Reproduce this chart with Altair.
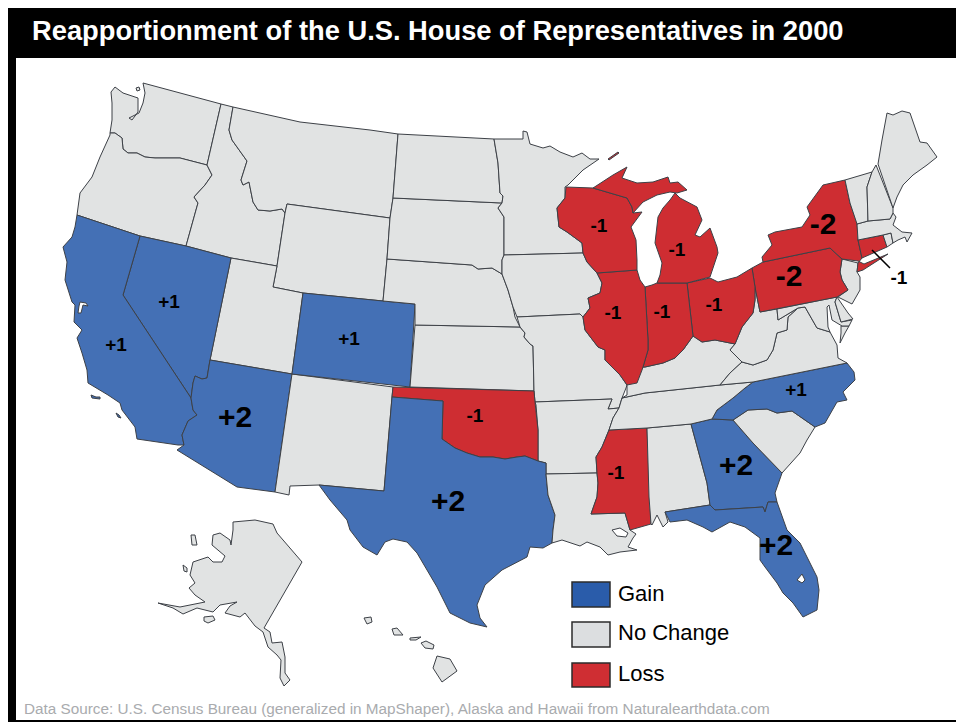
import altair as alt

TITLE = "Reapportionment of the U.S. House of Representatives in 2000"
SOURCE = "Data Source: U.S. Census Bureau (generalized in MapShaper), Alaska and Hawaii from Naturalearthdata.com"

# Shared borders (map units equal image pixels)
WA_OR = [(207,165),(180,158),(162,158),(155,158),(145,157),(137,153),(128,153),(123,149),(122,138),(115,133),(110,133)]
OR_ID = [(186,246),(196,210),(198,203),(194,197),(205,185),(212,175),(207,165)]
ID_MT = [(233,107),(229,130),(232,140),(247,161),(241,180),(243,185),(249,182),(253,202),(258,210),(270,211),(282,209),(285,213)]
NV_AZ = [(210,360),(207,378),(202,379),(195,376),(193,383),(191,398)]
CA_AZ = [(191,398),(193,410),(197,415),(188,421),(182,435),(184,445)]
ND_MN = [(494,139),(498,163),(500,193),(503,196),(502,203)]
SD_MN = [(502,203),(498,208),(504,217),(504,255)]
SD_IA = [(504,255),(502,260),(502,274)]
NE_SD = [(387,259),(472,265),(478,269),(492,268),(502,274)]
NE_IA = [(502,274),(508,290),(513,307),(515,317)]
NE_MO = [(515,317),(520,327)]
KS_MO = [(520,327),(525,333),(524,337),(530,344),(533,346),(534,391)]
MN_WI = [(565,187),(565,198),(557,208),(559,227),(567,232),(582,243),(583,253)]
IA_IL = [(583,253),(587,262),(597,273),(602,283),(600,293),(588,298),(590,308),(583,317)]
MO_IL = [(583,317),(585,330),(598,347),(605,350),(605,360),(620,375),(627,385)]
OK_TX = [(538,461),(525,456),(517,457),(505,459),(493,457),(480,457),(467,453),(455,448),(442,439),(443,401),(392,397)]
TX_LA = [(546,474),(548,495),(555,515),(553,530),(552,543)]
AR_MS = [(597,473),(596,457),(602,447),(609,430)]
LA_MS = [(597,473),(598,483),(597,497),(591,514),(625,513),(630,530)]
AL_GA = [(691,424),(707,483),(710,505)]
GA_SC = [(733,420),(753,443),(782,473)]
SC_NC = [(733,420),(748,410),(767,409),(777,413),(792,411),(815,427)]
NC_TN = [(712,419),(717,410),(733,398),(745,388),(753,382)]
KY_VA = [(720,385),(730,373),(742,362)]
KY_WV = [(735,344),(730,350),(742,362)]
WV_VA = [(742,362),(753,365),(767,360),(773,350),(777,333),(787,330),(788,317),(798,308)]
VA_MD = [(798,308),(805,307),(817,328),(830,332)]
OH_WV = [(735,344),(742,327),(753,313),(755,300),(755,287)]
NY_PA = [(763,262),(830,248),(842,259)]
NJ_PA = [(842,259),(840,272),(842,280),(848,290),(837,297)]


def r(seq):
    return list(reversed(seq))


STATES = {
 "WA": ("No Change", [[(143,83),(221,104)] + WA_OR + [(112,120),(112,103),(111,92),(115,87),(123,93),(138,98),(138,112),(132,120),(129,118),(133,116),(139,113),(143,103),(145,93)]]),
 "WAi": ("No Change", [[(136,88),(139,87),(140,90),(137,91)]]),
 "OR": ("No Change", [[(110,135),(100,157),(92,177),(80,193),(77,215),(140,236)] + OR_ID + WA_OR[1:]]),
 "ID": ("No Change", [[(221,104),(233,107)] + ID_MT[1:] + [(277,266),(231,258)] + OR_ID]),
 "MT": ("No Change", [[(233,107),(300,122),(370,130),(398,134),(393,198),(390,218),(287,204)] + r(ID_MT)[:-1]]),
 "WY": ("No Change", [[(287,204),(390,218),(387,259),(383,301),(303,293),(273,287),(277,266),(285,213)]]),
 "UT": ("No Change", [[(231,258),(277,266),(273,287),(303,293),(292,374),(210,360)]]),
 "NV": ("Gain", [[(140,236),(186,246),(231,258)] + NV_AZ + [(123,295)]]),
 "CA": ("Gain", [[(77,215),(140,236),(123,295)] + CA_AZ + [(178,445),(137,439),(135,427),(122,410),(120,403),(108,395),(88,383),(87,370),(82,353),(77,338),(82,330),(74,322),(75,305),(72,302),(65,280),(67,262),(63,247),(72,237),(75,227)],
                 [(80,302),(86,303),(88,306),(83,305),(81,313),(78,313),(79,306)]]),
 "CAi1": ("Gain", [[(91,395),(96,397),(100,397),(100,399),(92,398)]]),
 "CAi2": ("Gain", [[(116,413),(119,415),(121,418),(118,417)]]),
 "AZ": ("Gain", [NV_AZ + CA_AZ[1:] + [(177,450),(237,487),(275,492),(292,374)]]),
 "NM": ("No Change", [[(292,374),(393,387),(392,397),(384,491),(319,485),(290,486),(289,495),(275,492)]]),
 "CO": ("Gain", [[(303,293),(383,301),(415,304),(410,387),(292,374)]]),
 "KS": ("No Change", [[(415,325),(520,327)] + KS_MO[1:] + [(410,387)]]),
 "NE": ("No Change", [NE_SD + NE_IA[1:] + NE_MO[1:] + [(415,325),(415,304),(383,301)]]),
 "SD": ("No Change", [[(393,198),(502,203)] + SD_MN[1:] + SD_IA[1:] + r(NE_SD)[1:] + [(390,218)]]),
 "ND": ("No Change", [[(398,134),(494,139)] + ND_MN[1:] + [(393,198)]]),
 "MN": ("No Change", [[(494,139),(523,139),(523,131),(527,132),(530,144),(543,148),(550,146),(560,152),(573,157),(582,153),(590,159),(599,159),(583,170),(568,185)] + MN_WI + r(SD_MN)[:-1] + r(ND_MN)[:-1]]),
 "IA": ("No Change", [[(504,255),(583,253)] + IA_IL[1:] + [(580,314),(517,317)] + r(NE_IA)[1:-1] + [(502,274),(502,260)]]),
 "MO": ("No Change", [[(517,317),(580,314),(583,317)] + MO_IL[1:] + [(626,388),(622,398),(619,408),(608,409),(612,399),(535,402),(534,391)] + r(KS_MO)[1:-1] + [(520,327)]]),
 "AR": ("No Change", [[(535,402),(612,399),(608,409),(619,408),(613,418),(609,430)] + r(AR_MS)[1:] + [(546,474),(546,463),(538,461),(538,430),(536,405)]]),
 "OK": ("Loss", [[(393,387),(534,391),(535,402),(538,430)] + OK_TX]),
 "TX": ("Gain", [[(392,397),(443,401),(442,439),(455,448),(467,453),(480,457),(493,457),(505,459),(517,457),(525,456),(538,461),(546,463),(546,474)] + TX_LA[1:] + [(543,548),(530,547),(527,557),(502,570),(485,585),(477,605),(480,618),(487,627),(470,623),(450,613),(437,587),(417,553),(407,542),(393,539),(385,542),(377,555),(363,547),(350,530),(347,520),(330,500),(319,485),(384,491)]]),
 "LA": ("No Change", [[(546,474),(597,473)] + LA_MS[1:] + [(636,534),(633,538),(628,547),(637,550),(620,552),(608,555),(600,547),(587,542),(580,546),(562,540),(552,543)] + r(TX_LA)[1:-1],
                      [(612,530),(620,528),(628,533),(626,537),(617,536)]]),
 "MS": ("Loss", [[(609,430),(647,428),(651,524),(630,530)] + r(LA_MS)[1:] + AR_MS[1:]]),
 "AL": ("No Change", [[(647,428),(691,424)] + AL_GA[1:] + [(665,512),(668,522),(663,527),(657,515),(652,525),(651,524),(649,497)]]),
 "GA": ("Gain", [[(691,424),(712,419),(733,420)] + GA_SC[1:] + [(775,493),(777,502),(768,502),(765,512),(763,507),(715,510),(710,505)] + r(AL_GA)[1:-1]]),
 "FL": ("Gain", [[(665,512),(710,505),(715,510),(763,507),(765,512),(768,502),(777,502),(787,530),(800,543),(817,577),(819,590),(817,610),(803,617),(793,603),(783,593),(777,583),(765,567),(760,560),(760,538),(745,527),(730,522),(712,532),(703,527),(687,520),(670,522)],
                 [(802,574),(805,580),(802,583),(797,580)]]),
 "SC": ("No Change", [SC_NC + [(807,440),(800,453)] + r(GA_SC)[:-1]]),
 "NC": ("Gain", [NC_TN + [(847,363),(854,372),(855,380),(843,392),(847,400),(837,402),(825,423)] + r(SC_NC)[:] + [(712,419)]]),
 "TN": ("No Change", [[(622,398),(645,393),(720,385),(753,382)] + r(NC_TN)[1:] + [(691,424),(647,428),(609,430),(613,418),(619,408)]]),
 "KY": ("No Change", [[(627,385),(643,367),(645,367),(663,363),(675,358),(683,350),(693,336),(702,342),(715,340),(735,344)] + KY_WV[1:] + [(730,373),(720,385),(645,393),(622,398),(627,395)]]),
 "VA": ("No Change", [KY_VA + WV_VA[1:] + VA_MD[1:] + [(837,345),(838,358),(847,363),(753,382)]]),
 "VAe": ("No Change", [[(841,326),(849,326),(845,333),(840,343),(841,333)]]),
 "WV": ("No Change", [r(OH_WV) + KY_WV[1:] + WV_VA[1:] + [(778,320),(777,309),(760,312)]]),
 "MD": ("No Change", [[(777,309),(837,297),(835,302),(841,322),(852,320),(849,326),(842,326),(832,320),(829,305),(827,307),(828,327),(830,332),(817,328),(805,307),(798,308),(778,320)]]),
 "DE": ("No Change", [[(837,297),(848,313),(853,319),(841,322),(835,302)]]),
 "NJ": ("No Change", [[(842,259),(858,263),(857,272),(860,277),(860,290),(852,304),(838,297),(848,290),(842,280),(840,272)]]),
 "PA": ("Loss", [[(752,268),(763,262)] + NY_PA[1:] + NJ_PA[1:] + [(760,312),(755,287)]]),
 "NY": ("Loss", [[(763,262),(762,257),(772,245),(768,235),(775,232),(802,227),(810,215),(807,207),(823,185),(845,180),(850,203),(857,223),(858,240),(862,258),(858,263),(857,272),(863,270),(888,254),(864,264),(858,261),(842,259),(830,248)]]),
 "CT": ("Loss", [[(858,240),(883,235),(887,247),(862,258)]]),
 "RI": ("No Change", [[(883,235),(891,233),(893,243),(887,247)]]),
 "MA": ("No Change", [[(857,224),(868,221),(890,219),(893,213),(896,217),(893,225),(902,232),(912,233),(907,242),(905,237),(898,240),(893,243),(891,233),(883,235),(858,240)]]),
 "VT": ("No Change", [[(845,180),(872,172),(867,187),(868,221),(857,224),(850,203)]]),
 "NH": ("No Change", [[(872,172),(876,165),(893,208),(893,213),(890,219),(868,221),(867,187)]]),
 "ME": ("No Change", [[(878,164),(882,140),(887,113),(893,115),(902,111),(910,113),(920,142),(927,143),(937,157),(927,165),(913,175),(903,185),(897,197),(893,208)]]),
 "OH": ("Loss", [[(687,283),(710,278),(718,282),(737,277),(752,268),(755,287),(755,300),(753,313),(742,327),(735,344),(715,340),(702,342),(693,336)]]),
 "IN": ("Loss", [[(645,287),(652,285),(657,283),(687,283),(693,336),(683,350),(675,358),(663,363),(645,367),(643,367),(648,350),(648,340)]]),
 "IL": ("Loss", [[(597,273),(637,270),(640,280),(645,287),(648,340),(648,350),(643,367),(642,370),(637,383),(627,385),(620,375),(605,360),(605,350),(598,347),(585,330),(583,317),(590,308),(588,298),(600,293),(602,283)]]),
 "WI": ("Loss", [[(566,187),(593,188),(627,198),(632,207),(633,213),(642,212),(631,227),(636,240),(637,260),(637,270),(597,273),(587,262),(583,253),(582,243),(567,232),(559,227),(557,208),(565,198)]]),
 "MIu": ("Loss", [[(593,188),(613,175),(627,167),(622,178),(637,183),(653,182),(668,177),(670,183),(678,182),(687,190),(677,193),(670,192),(657,195),(643,202),(633,213),(632,207),(627,198)]]),
 "MIl": ("Loss", [[(675,193),(680,198),(697,207),(702,220),(695,235),(700,237),(710,228),(717,247),(718,253),(710,277),(687,283),(657,283),(660,275),(662,263),(655,243),(658,217),(663,208),(670,200)]]),
 "IRoy": ("Loss", [[(608,159),(618,152),(619,153),(609,160)]]),
 "AK": ("No Change", [[(233,522),(255,520),(273,524),(277,533),(302,562),(264,628),(270,632),(272,643),(282,642),(285,657),(285,673),(290,680),(284,686),(280,678),(281,660),(277,655),(268,647),(263,632),(255,626),(245,613),(240,617),(225,613),(230,606),(237,602),(220,605),(213,612),(197,608),(183,614),(173,608),(158,603),(180,607),(205,602),(195,595),(189,588),(195,583),(190,575),(193,562),(208,557),(213,562),(222,562),(225,556),(212,545),(213,535),(220,533),(230,540),(231,545),(233,530)]]),
 "AKi1": ("No Change", [[(191,535),(195,535),(197,545),(192,545)]]),
 "AKi2": ("No Change", [[(183,565),(187,568),(187,572),(184,571)]]),
 "AKi3": ("No Change", [[(204,617),(213,616),(215,620),(208,623),(204,621)]]),
 "HI1": ("No Change", [[(364,618),(371,617),(372,622),(367,624)]]),
 "HI2": ("No Change", [[(392,629),(397,628),(403,635),(394,635)]]),
 "HI3": ("No Change", [[(410,638),(421,637),(416,640),(410,640)]]),
 "HI4": ("No Change", [[(421,643),(426,641),(434,645),(433,649),(425,648)]]),
 "HI5": ("No Change", [[(437,656),(450,659),(457,671),(442,682),(433,668)]]),
}

STATUS = ["Gain", "No Change", "Loss"]
MAP_COLORS = ["#4470b5", "#e1e3e3", "#ce2d32"]
KEY_COLORS = ["#2a5caa", "#dcdee0", "#cf2e33"]

LABEL_TEXT = ["+1","+1","+1","+2","+2","-1","-1","+2","+2","+1","-1","-1","-1","-1","-1","-2","-2","-1"]
LABEL_X =    [169,116,349,235,448,475,616,736,776,796,599,677,613,662,714,789,823,899]
LABEL_Y =    [302,345,339,418,502,416,473,466,546,390,226,250,313,312,305,277,225,278]
LABEL_SIZE = [19,19,19,30,30,19,19,30,30,19,19,19,19,19,19,30,30,19]

KEY_TEXT_Y = [594,633,674]
KEY_BOXES = [(572,582,610,607),(572,622,610,647),(572,663,610,687)]
FRAME = [(8,7,964,58),(8,7,16,722),(8,720,964,722)]
LEADER = [(872,250),(890,268)]


def area(pts):
    return sum(a[0]*b[1]-b[0]*a[1] for a, b in zip(pts, pts[1:]+pts[:1]))


def feature(name, status, rings):
    out = []
    for i, seq in enumerate(rings):
        pts = [list(p) for p in seq]
        # holes wind the other way round from their outer ring
        if (area(pts) > 0) == (i > 0):
            pts = pts[::-1]
        out.append(pts + [pts[0]])
    return {"type": "Feature", "id": name, "properties": {"status": status},
            "geometry": {"type": "Polygon", "coordinates": out}}


def box(x0, y0, x1, y1):
    return [[(x0,y0),(x1,y0),(x1,y1),(x0,y1)]]


state_features = [feature(k, v[0], v[1]) for k, v in STATES.items()]
key_features = [feature(s, s, box(*b)) for s, b in zip(STATUS, KEY_BOXES)]
frame_features = [feature(f"f{i}", "frame", box(*b)) for i, b in enumerate(FRAME)]
leader_feature = [{"type": "Feature", "properties": {}, "geometry": {"type": "LineString", "coordinates": [list(p) for p in LEADER]}}]

proj = dict(type="identity", scale=1, translate=[-8, -8])

frame = alt.Chart(alt.Data(values=frame_features)).mark_geoshape(fill="#000000", stroke=None).project(**proj)
states = alt.Chart(alt.Data(values=state_features)).mark_geoshape(stroke="#3d4147", strokeWidth=1, strokeJoin="round").encode(
    fill=alt.Color("properties.status:N", scale=alt.Scale(domain=STATUS, range=MAP_COLORS), legend=None)
).project(**proj)
keys = alt.Chart(alt.Data(values=key_features)).mark_geoshape(stroke="#2b2b2b", strokeWidth=1.5).encode(
    fill=alt.Color("properties.status:N", scale=alt.Scale(domain=STATUS, range=KEY_COLORS), legend=None)
).project(**proj)
leader = alt.Chart(alt.Data(values=leader_feature)).mark_geoshape(filled=False, stroke="#000000", strokeWidth=1.5).project(**proj)

labels = alt.Chart(alt.Data(values=[
    {"t": t, "lon": x, "lat": y, "s": s} for t, x, y, s in zip(LABEL_TEXT, LABEL_X, LABEL_Y, LABEL_SIZE)
])).mark_text(font="Liberation Sans", fontWeight="bold", color="#000000", align="center", baseline="middle").encode(
    longitude="lon:Q", latitude="lat:Q", text="t:N", size=alt.Size("s:Q", scale=None, legend=None)
).project(**proj)

key_text = alt.Chart(alt.Data(values=[
    {"t": t, "lon": 618, "lat": y} for t, y in zip(STATUS, KEY_TEXT_Y)
])).mark_text(font="Liberation Sans", fontSize=22, color="#000000", align="left", baseline="middle").encode(
    longitude="lon:Q", latitude="lat:Q", text="t:N"
).project(**proj)

title = alt.Chart(alt.Data(values=[{"t": TITLE, "lon": 32, "lat": 32}])).mark_text(
    font="Liberation Sans", fontWeight="bold", fontSize=27.3, color="#ffffff", align="left", baseline="middle"
).encode(longitude="lon:Q", latitude="lat:Q", text="t:N").project(**proj)

source = alt.Chart(alt.Data(values=[{"t": SOURCE, "lon": 24, "lat": 709}])).mark_text(
    font="Liberation Sans", fontSize=15.3, color="#a9abae", align="left", baseline="middle"
).encode(longitude="lon:Q", latitude="lat:Q", text="t:N").project(**proj)

chart = alt.layer(frame, states, keys, leader, labels, key_text, title, source).resolve_scale(
    fill="independent"
).properties(width=948, height=714, padding=0, background="#ffffff").configure_view(stroke=None)

chart.save("out.html", embed_options={"renderer": "svg", "actions": False})
